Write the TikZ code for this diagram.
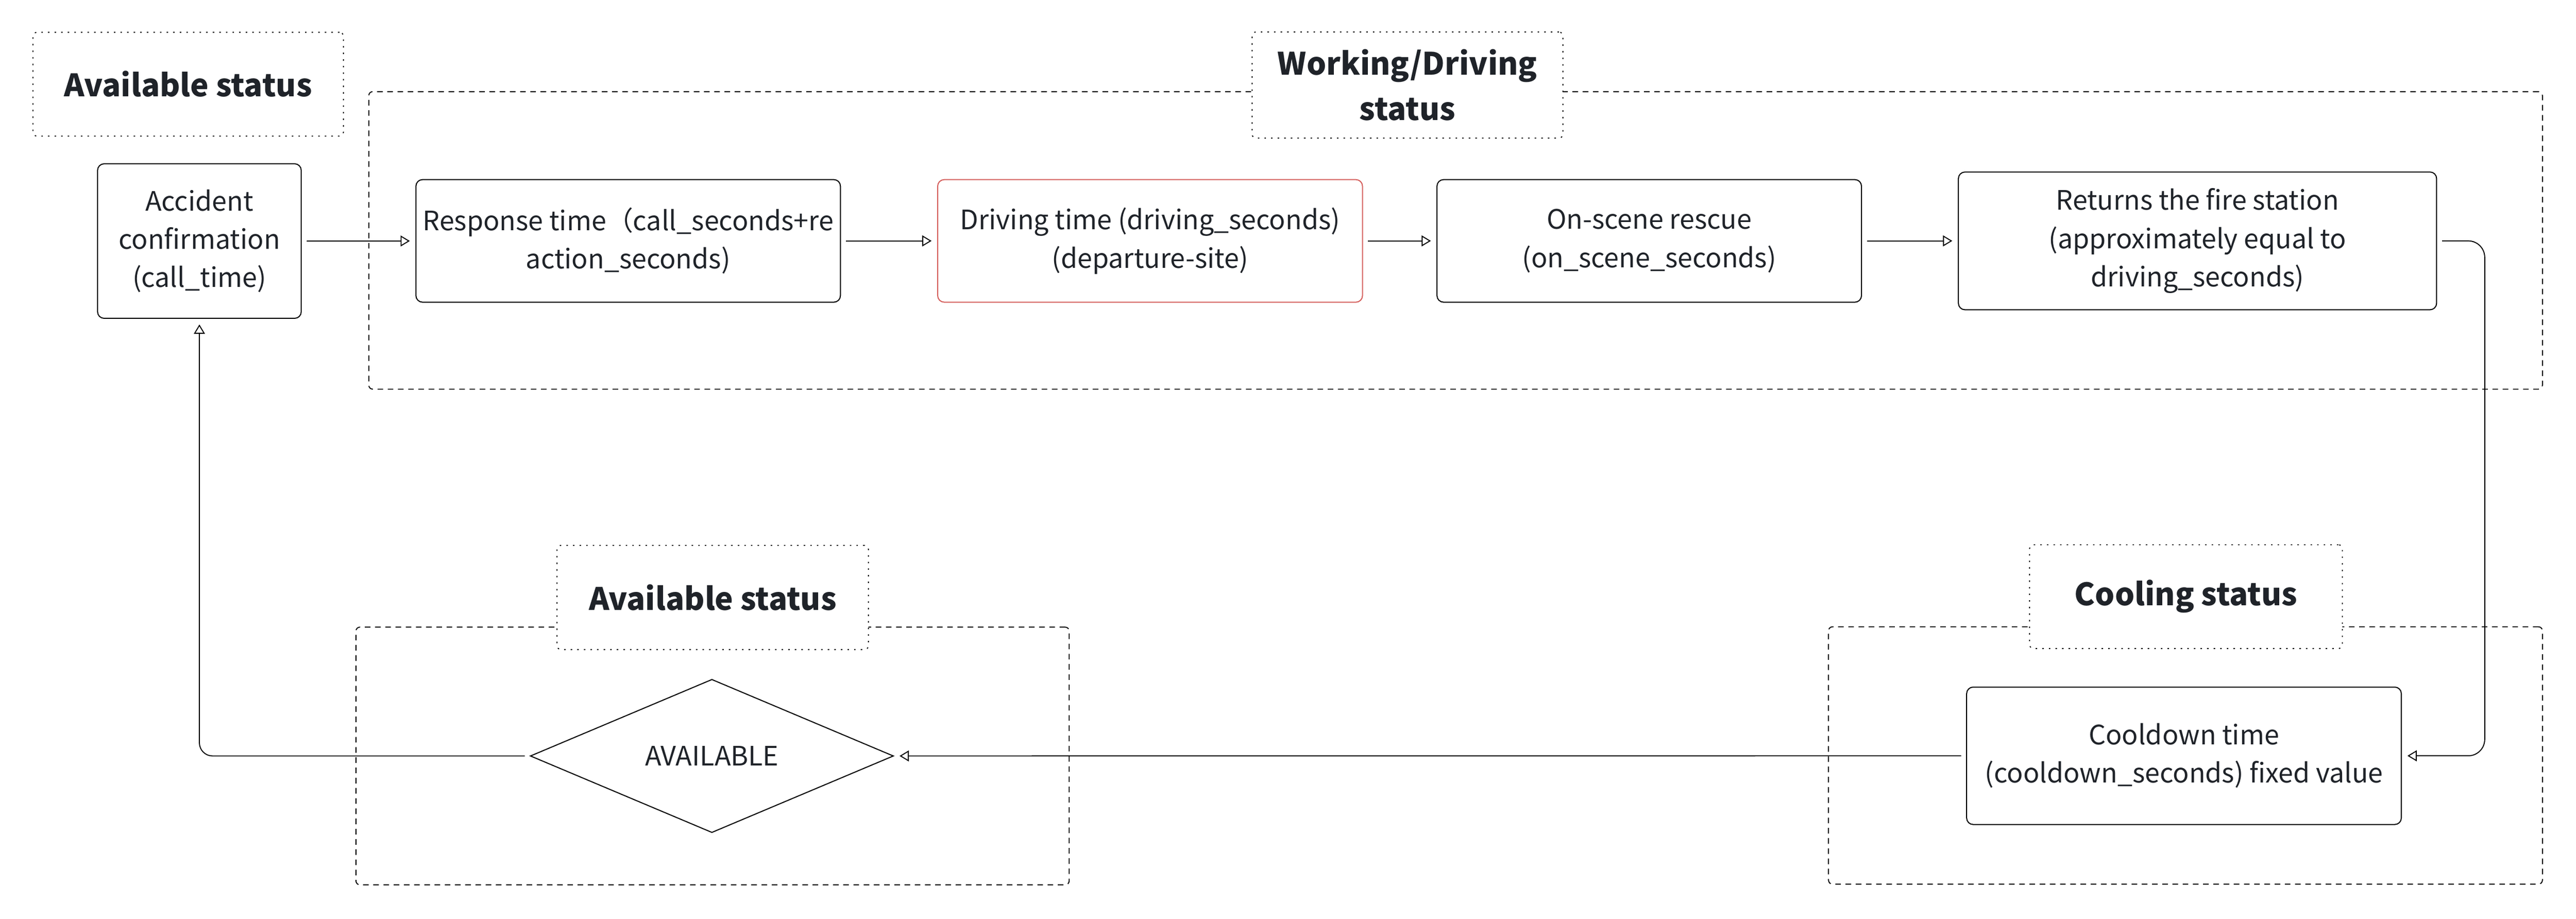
\documentclass[tikz,border=0pt]{standalone}
\usepackage{fontspec}
\setmainfont{Noto Sans CJK SC}
\usetikzlibrary{shapes.geometric,arrows.meta,calc}
\definecolor{inkc}{HTML}{1F2329}
\definecolor{redline}{HTML}{D45D5A}
\tikzset{
every picture/.style={
line width=0.9pt
}}
\tikzset{
  stage/.style={
    draw, rounded corners=0.2cm, align=center, text=inkc,
    font=\fontsize{23.1}{33}\selectfont, inner sep=0pt
  },
  group/.style={
    draw, dash pattern=on 0.17cm off 0.14cm, rounded corners=0.12cm,
    line width=0.85pt, inner sep=0pt
  },
  grouplabel/.style={
    draw, fill=white, dash pattern=on 0.045cm off 0.155cm, rounded corners=0.12cm,
    line width=0.85pt, align=center, text=inkc,
    font=\fontsize{26.7}{39}\selectfont\bfseries, inner sep=0pt
  },
  decision/.style={
    diamond, draw, text=inkc, font=\fontsize{23.1}{33}\selectfont, inner sep=0pt
  },
  flow/.style={
    -{Triangle[open,length=0.28cm,width=0.33cm]},
    shorten <=0.15cm, shorten >=0.17cm, line width=0.85pt
  }
}

\begin{document}
\begin{tikzpicture}
  \useasboundingbox (0,0) rectangle (78.16,-27.88);

  % status groups
  \node [group, minimum width=65.95cm, minimum height=9.03cm] (workgroup) at (44.165,-7.295) {};
  \node [group, minimum width=21.64cm, minimum height=7.82cm] (availgroup) at (21.62,-22.94) {};
  \node [group, minimum width=21.66cm, minimum height=7.81cm] (coolgroup) at (66.31,-22.925) {};

  \node [grouplabel, minimum width=9.42cm, minimum height=3.15cm] (availtop) at (5.71,-2.555) {Available status};
  \node [grouplabel, minimum width=9.43cm, minimum height=3.22cm] (worklbl) at (42.705,-2.58) {Working/Driving\\status};
  \node [grouplabel, minimum width=9.45cm, minimum height=3.16cm] (availlbl) at (21.625,-18.13) {Available status};
  \node [grouplabel, minimum width=9.49cm, minimum height=3.15cm] (coollbl) at (66.325,-18.105) {Cooling status};

  % steps
  \node [stage, minimum width=6.18cm, minimum height=4.69cm] (accident) at (6.05,-7.315) {Accident\\confirmation\\(call\_time)};
  \node [stage, minimum width=12.88cm, minimum height=3.72cm] (response) at (19.06,-7.31) {Response time（call\_seconds+re\\action\_seconds)};
  \node [stage, draw=redline, minimum width=12.89cm, minimum height=3.72cm] (driving) at (34.895,-7.31) {Driving time (driving\_seconds)\\(departure-site)};
  \node [stage, minimum width=12.88cm, minimum height=3.72cm] (onscene) at (50.04,-7.31) {On-scene rescue\\(on\_scene\_seconds)};
  \node [stage, minimum width=14.51cm, minimum height=4.18cm] (returns) at (66.675,-7.31) {Returns the fire station\\(approximately equal to\\driving\_seconds)};
  \node [stage, minimum width=13.19cm, minimum height=4.17cm] (cooldown) at (66.265,-22.935) {Cooldown time\\(cooldown\_seconds) fixed value};
  \node [decision, minimum width=11.02cm, minimum height=4.30cm] (available) at (21.60,-22.94) {AVAILABLE};

  \coordinate (rightbend) at (75.39,0);

  \draw [flow] (accident) -- (response);
  \draw [flow] (response) -- (driving);
  \draw [flow] (driving) -- (onscene);
  \draw [flow] (onscene) -- (returns);
  \draw [flow, rounded corners=0.5cm] (returns.east) -- (returns.east -| rightbend) -- (cooldown.east -| rightbend) -- (cooldown.east);
  \draw [flow] (cooldown) -- (available);
  \draw [flow, rounded corners=0.4cm] (available.west) -| (accident.south);
\end{tikzpicture}
\end{document}
